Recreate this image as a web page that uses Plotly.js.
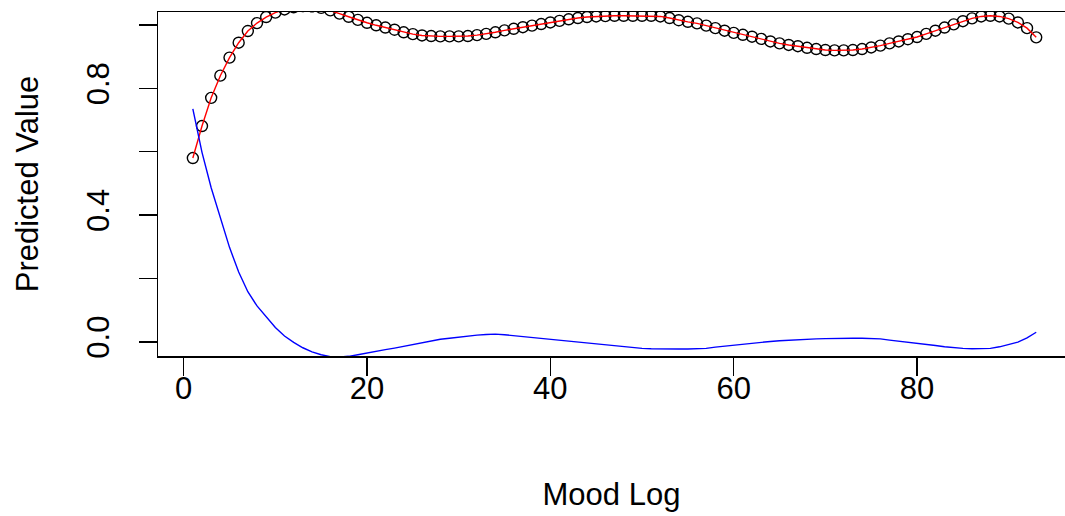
<!DOCTYPE html>
<html>
<head>
<meta charset="utf-8">
<script src="https://cdn.plot.ly/plotly-3.0.1.min.js"></script>
<style>
  html, body { margin: 0; padding: 0; background: #ffffff; overflow: hidden; }
  #chart { width: 1065px; height: 516px; }
</style>
</head>
<body>
<div id="chart"></div>
<script>
// Mood log index
const moodLog = Array.from({length: 93}, (_, i) => i + 1);

// Observed predicted values (open circles) – the red curve runs through them
const predicted = [
  0.580, 0.681, 0.770, 0.840, 0.897, 0.944, 0.981, 1.006, 1.025, 1.039,
  1.049, 1.056, 1.060, 1.059, 1.054, 1.046, 1.036, 1.026, 1.016, 1.007,
  0.999, 0.992, 0.985, 0.977, 0.971, 0.967, 0.965, 0.964, 0.964, 0.964,
  0.965, 0.968, 0.972, 0.977, 0.983, 0.988, 0.993, 0.998, 1.003, 1.008,
  1.013, 1.018, 1.022, 1.025, 1.027, 1.028, 1.029, 1.029, 1.029, 1.029,
  1.029, 1.027, 1.022, 1.015, 1.010, 1.005, 0.998, 0.990, 0.982, 0.975,
  0.969, 0.963, 0.956, 0.948, 0.942, 0.937, 0.933, 0.928, 0.924, 0.921,
  0.920, 0.920, 0.921, 0.924, 0.929, 0.935, 0.942, 0.948, 0.955, 0.962,
  0.972, 0.982, 0.992, 1.002, 1.012, 1.021, 1.027, 1.029, 1.027, 1.020,
  1.008, 0.990, 0.961
];

// Second prediction series (blue curve)
const secondary = [
  0.735, 0.598, 0.486, 0.389, 0.298, 0.220, 0.158, 0.113, 0.078, 0.045,
  0.018, -0.002, -0.019, -0.032, -0.041, -0.047, -0.048, -0.046, -0.041, -0.035,
  -0.030, -0.025, -0.020, -0.014, -0.008, -0.002, 0.003, 0.008, 0.011, 0.015,
  0.018, 0.021, 0.023, 0.024, 0.022, 0.019, 0.016, 0.014, 0.011, 0.007,
  0.004, 0.001, -0.002, -0.004, -0.006, -0.009, -0.013, -0.016, -0.019, -0.021,
  -0.022, -0.023, -0.023, -0.023, -0.023, -0.023, -0.021, -0.017, -0.014, -0.010,
  -0.006, -0.003, -0.001, 0.001, 0.003, 0.005, 0.007, 0.008, 0.009, 0.010,
  0.011, 0.011, 0.011, 0.011, 0.011, 0.009, 0.005, 0.002, -0.001, -0.004,
  -0.008, -0.012, -0.016, -0.019, -0.021, -0.022, -0.022, -0.021, -0.016, -0.009,
  -0.001, 0.012, 0.030
];

// Axis ticks
const xTickVals = [0, 20, 40, 60, 80];
const yTickVals = [0, 0.2, 0.4, 0.6, 0.8, 1.0];
const yTickText = ['0.0', '', '0.4', '', '0.8', ''];

const baseFont = {family: 'Liberation Sans, Arial, sans-serif', size: 31, color: '#000000'};

const traces = [
  {
    x: moodLog, y: predicted, type: 'scatter', mode: 'markers',
    marker: {symbol: 'circle-open', size: 11, color: '#000000', line: {width: 1.4, color: '#000000'}},
    cliponaxis: true, showlegend: false, hoverinfo: 'skip'
  },
  {
    x: moodLog, y: predicted, type: 'scatter', mode: 'lines',
    line: {color: '#ff0000', width: 1.4},
    showlegend: false, hoverinfo: 'skip'
  },
  {
    x: moodLog, y: secondary, type: 'scatter', mode: 'lines',
    line: {color: '#0000ff', width: 1.4},
    showlegend: false, hoverinfo: 'skip'
  }
];

const layout = {
  width: 1065, height: 516,
  margin: {l: 158, r: 0, t: 12, b: 160},
  paper_bgcolor: '#ffffff', plot_bgcolor: '#ffffff',
  font: baseFont,
  showlegend: false,
  xaxis: {
    range: [-2.80, 96.14],
    tickvals: xTickVals,
    ticks: 'outside', ticklen: 18, tickwidth: 1.5, tickcolor: '#000000',
    showline: true, linewidth: 1.5, linecolor: '#000000', mirror: true,
    showgrid: false, zeroline: false,
    tickfont: baseFont,
    ticklabelstandoff: -14,
    title: {text: 'Mood Log', font: baseFont, standoff: 78}
  },
  yaxis: {
    range: [-0.045, 1.041],
    tickvals: yTickVals, ticktext: yTickText,
    ticks: 'outside', ticklen: 18, tickwidth: 1.5, tickcolor: '#000000',
    showline: true, linewidth: 1.5, linecolor: '#000000', mirror: false,
    showgrid: false, zeroline: false,
    tickangle: -90,
    tickfont: baseFont,
    ticklabelstandoff: 17,
    title: {text: 'Predicted Value', font: baseFont, standoff: 33}
  }
};

Plotly.newPlot('chart', traces, layout, {staticPlot: true, displayModeBar: false});
</script>
</body>
</html>
